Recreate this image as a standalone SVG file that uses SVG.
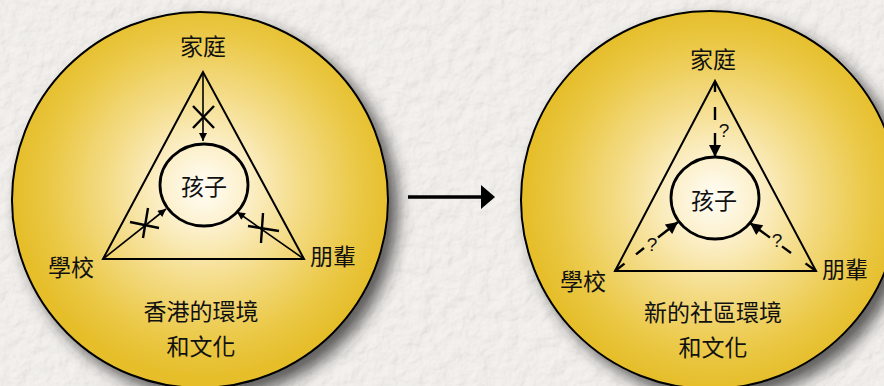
<svg xmlns="http://www.w3.org/2000/svg" width="884" height="386" viewBox="0 0 884 386">
<defs>
  <filter id="paper" x="0" y="0" width="100%" height="100%">
    <feTurbulence type="fractalNoise" baseFrequency="0.07" numOctaves="4" seed="7" result="n"/>
    <feDiffuseLighting in="n" lighting-color="#f4f2ee" surfaceScale="1.4" result="l">
      <feDistantLight azimuth="45" elevation="74"/>
    </feDiffuseLighting>
  </filter>
  <filter id="shadow" x="-20%" y="-20%" width="150%" height="150%">
    <feDropShadow dx="9" dy="9" stdDeviation="8" flood-color="#2a2a2a" flood-opacity="0.75"/>
  </filter>
  <radialGradient id="goldL" gradientUnits="userSpaceOnUse" cx="204" cy="188" r="190">
    <stop offset="0" stop-color="#FFFDF6"/>
    <stop offset="0.22" stop-color="#FCF0CB"/>
    <stop offset="0.5" stop-color="#F4DC88"/>
    <stop offset="0.8" stop-color="#EBC948"/>
    <stop offset="1" stop-color="#E5BE2A"/>
  </radialGradient>
  <radialGradient id="goldR" gradientUnits="userSpaceOnUse" cx="715" cy="198" r="190">
    <stop offset="0" stop-color="#FFFDF6"/>
    <stop offset="0.22" stop-color="#FCF0CB"/>
    <stop offset="0.5" stop-color="#F4DC88"/>
    <stop offset="0.8" stop-color="#EBC948"/>
    <stop offset="1" stop-color="#E5BE2A"/>
  </radialGradient>
  <marker id="arrS" viewBox="0 0 10 10" refX="10" refY="5" markerWidth="10" markerHeight="8" markerUnits="userSpaceOnUse" orient="auto">
    <path d="M0,0 L10,5 L0,10 Z" fill="#000"/>
  </marker>
  <marker id="arrB" viewBox="0 0 10 10" refX="10" refY="5" markerWidth="14" markerHeight="12" markerUnits="userSpaceOnUse" orient="auto">
    <path d="M0,0 L10,5 L0,10 Z" fill="#000"/>
  </marker>
  <style>
    .big { fill: url(#goldL); stroke: #000; stroke-width: 2; }
    .tri { fill: none; stroke: #000; stroke-width: 2; stroke-linejoin: miter; }
    .inner { fill: none; stroke: #000; stroke-width: 2.8; }
    .lbl { font-family: "Noto Sans CJK TC", "Noto Sans CJK SC", sans-serif; font-size: 23px; fill: #111; text-anchor: middle; }
    .q { font-family: "Liberation Sans", "DejaVu Sans", sans-serif; font-size: 19px; fill: #111; text-anchor: middle; }
    .arr { stroke: #000; stroke-width: 1.6; fill: none; }
    .x { stroke: #000; stroke-width: 2.4; fill: none; }
    .dash { stroke: #000; stroke-width: 2.4; fill: none; }
  </style>
</defs>

<rect x="0" y="0" width="884" height="386" fill="#ebe9e5"/>
<rect x="0" y="0" width="884" height="386" filter="url(#paper)"/>

<g id="hk-circle">
  <circle cx="200" cy="200" r="188" class="big" filter="url(#shadow)"/>
  <text class="lbl" x="201" y="320">香港的環境</text>
  <text class="lbl" x="201" y="355">和文化</text>
</g>
<g id="new-circle">
  <circle cx="710" cy="200" r="189" class="big" style="fill:url(#goldR)" filter="url(#shadow)"/>
  <text class="lbl" x="713" y="321">新的社區環境</text>
  <text class="lbl" x="713" y="356">和文化</text>
</g>

<g id="hk-triangle">
  <polygon class="tri" points="203,72 103,259 304,259"/>
</g>
<g id="new-triangle">
  <polygon class="tri" points="715,81 615,271 816,271"/>
</g>

<g id="hk-family"><text class="lbl" x="203" y="55">家庭</text></g>
<g id="hk-school"><text class="lbl" x="71" y="276">學校</text></g>
<g id="hk-peers"><text class="lbl" x="333" y="265">朋輩</text></g>
<g id="hk-child">
  <ellipse class="inner" cx="204" cy="185" rx="44" ry="41"/>
  <text class="lbl" x="204" y="195">孩子</text>
</g>

<g id="new-family"><text class="lbl" x="713" y="68">家庭</text></g>
<g id="new-school"><text class="lbl" x="583" y="290">學校</text></g>
<g id="new-peers"><text class="lbl" x="845" y="278">朋輩</text></g>
<g id="new-child">
  <ellipse class="inner" cx="715" cy="198" rx="44" ry="41"/>
  <text class="lbl" x="714" y="209">孩子</text>
</g>

<g id="connectors">
  <!-- left diagram: blocked influences -->
  <line class="arr" x1="203" y1="72" x2="203" y2="141" marker-end="url(#arrS)"/>
  <line class="x" x1="193" y1="106" x2="214" y2="128"/>
  <line class="x" x1="214" y1="106" x2="193" y2="128"/>

  <line class="arr" x1="103" y1="259" x2="166" y2="209" marker-end="url(#arrS)"/>
  <line class="x" x1="130" y1="222" x2="159" y2="228"/>
  <line class="x" x1="148" y1="208" x2="143" y2="238"/>

  <line class="arr" x1="304" y1="259" x2="237" y2="212" marker-end="url(#arrS)"/>
  <line class="x" x1="248" y1="226" x2="279" y2="231"/>
  <line class="x" x1="263" y1="213" x2="261" y2="243"/>

  <!-- transition arrow -->
  <line x1="408" y1="197" x2="483" y2="197" stroke="#000" stroke-width="3.4"/>
  <polygon points="481,185 495,197 481,209" fill="#000"/>

  <!-- right diagram: uncertain influences -->
  <line class="dash" x1="715" y1="82" x2="715" y2="92"/>
  <line class="dash" x1="715" y1="107" x2="715" y2="120"/>
  <text class="q" x="724" y="137">?</text>
  <line class="dash" x1="715" y1="133" x2="715" y2="157" marker-end="url(#arrB)"/>

  <line class="dash" x1="615" y1="271" x2="624.5" y2="263.6"/>
  <line class="dash" x1="636" y1="254.4" x2="644" y2="248"/>
  <text class="q" x="652" y="251">?</text>
  <line class="dash" x1="658" y1="237.5" x2="678" y2="222" marker-end="url(#arrB)"/>

  <line class="dash" x1="816" y1="271" x2="805.5" y2="263.4"/>
  <line class="dash" x1="791" y1="253" x2="782" y2="246.4"/>
  <text class="q" x="777" y="247">?</text>
  <line class="dash" x1="770" y1="237.6" x2="750" y2="223" marker-end="url(#arrB)"/>
</g>
</svg>
